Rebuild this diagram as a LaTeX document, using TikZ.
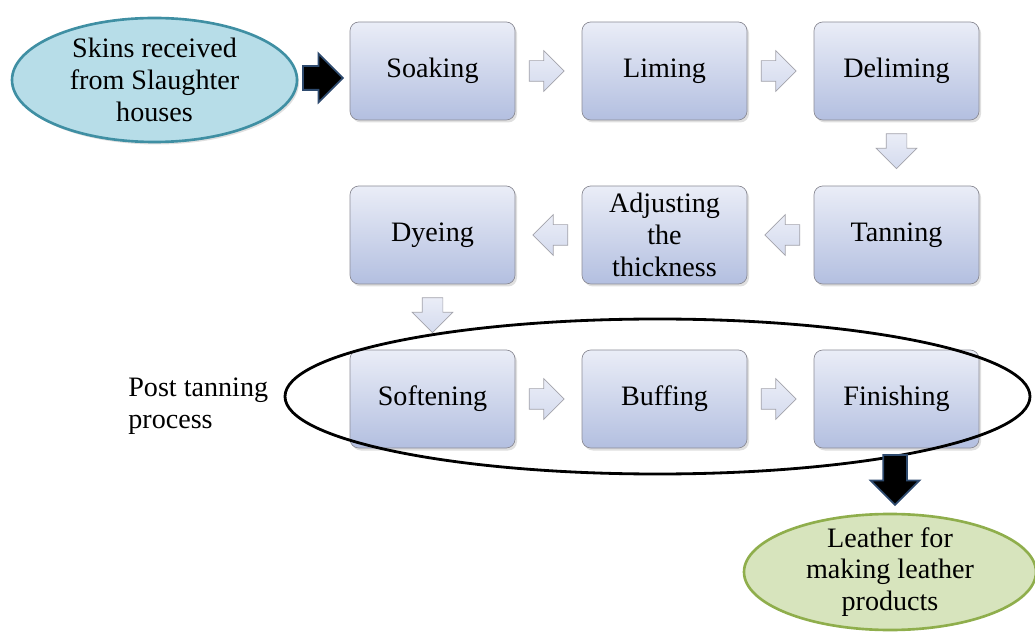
\documentclass[tikz,border=0pt]{standalone}
\usepackage{fontspec}
\setmainfont{Liberation Serif}
\usetikzlibrary{arrows.meta, positioning, shapes.geometric, shapes.arrows, calc, shadows}
\definecolor{stepline}{HTML}{8C8C96}
\definecolor{steptop}{HTML}{EAEDF7}
\definecolor{stepbot}{HTML}{B3BFE0}
\definecolor{skinfill}{HTML}{B7DDE8}
\definecolor{skinline}{HTML}{3F8FA3}
\definecolor{leafill}{HTML}{D7E4BD}
\definecolor{lealine}{HTML}{8FAE4C}
\definecolor{darkarrow}{HTML}{2E4A6E}

\begin{document}
\begin{tikzpicture}[
  every node/.style={font=\fontsize{16}{18}\selectfont},
  stepbox/.style={rectangle, rounded corners=5pt, minimum width=3.3cm, minimum height=1.96cm, align=center, draw=stepline, top color=steptop, bottom color=stepbot, drop shadow={opacity=0.25, shadow xshift=0.04cm, shadow yshift=-0.05cm}},
  endpoint/.style={ellipse, line width=1.5pt, align=center, inner xsep=0pt, inner ysep=-6pt},
  flowarrow/.style={single arrow, draw=stepline!80, top color=steptop, bottom color=steptop!60!stepbot, minimum height=0.7cm, minimum width=0.8cm, inner sep=0.2cm, single arrow head extend=0.2cm, single arrow head indent=0pt, xshift=-0.14cm},
  bigarrow/.style={single arrow, draw=darkarrow, line width=1pt, fill=black, inner sep=0.22cm, single arrow head indent=0pt},
]
\useasboundingbox (0,0) rectangle (20.7,12.64);

% process steps
\node[stepbox] (soak) at (8.65, 11.22) {Soaking};
\node[stepbox] (lime) at (13.29, 11.22) {Liming};
\node[stepbox] (delime) at (17.93, 11.22) {Deliming};
\node[stepbox] (tan) at (17.93, 7.94) {Tanning};
\node[stepbox] (adjust) at (13.29, 7.94) {Adjusting\\the\\thickness};
\node[stepbox] (dye) at (8.65, 7.94) {Dyeing};
\node[stepbox] (soften) at (8.65, 4.66) {Softening};
\node[stepbox] (buff) at (13.29, 4.66) {Buffing};
\node[stepbox] (finish) at (17.93, 4.66) {Finishing};

% start and end
\node[endpoint, draw=skinline, fill=skinfill, minimum width=5.7cm, minimum height=2.48cm, drop shadow={opacity=0.25, shadow xshift=0.04cm, shadow yshift=-0.05cm}] (skins) at (3.09, 11.04) {Skins received\\from Slaughter\\houses};
\begin{scope}
\clip (0,0) rectangle (20.7,12.64);
\node[endpoint, draw=lealine, fill=leafill, minimum width=5.84cm, minimum height=2.32cm] (leather) at (17.8, 1.2) {Leather for\\making leather\\products};
\end{scope}

% arrows between steps
\node[flowarrow] (a1) at ($(soak)!0.5!(lime)$) {};
\node[flowarrow] (a2) at ($(lime)!0.5!(delime)$) {};
\node[rotate=-90, flowarrow] (a3) at ($(delime)!0.5!(tan)$) {};
\node[rotate=180, flowarrow] (a4) at ($(tan)!0.5!(adjust)$) {};
\node[rotate=180, flowarrow] (a5) at ($(adjust)!0.5!(dye)$) {};
\node[rotate=-90, flowarrow] (a6) at ($(dye)!0.5!(soften)$) {};
\node[flowarrow] (a7) at ($(soften)!0.5!(buff)$) {};
\node[flowarrow] (a8) at ($(buff)!0.5!(finish)$) {};

\node[bigarrow, minimum height=0.8cm, minimum width=0.8cm] (in) at (6.34, 11.08) {};

% post tanning group
\node[ellipse, draw=black, line width=1.6pt, minimum width=14.9cm, minimum height=3.1cm] (post) at (13.15, 4.71) {};
\node[anchor=west, align=left, inner sep=0pt] (postlbl) at (2.56, 4.52) {Post tanning\\process};

\node[bigarrow, rotate=-90, minimum height=1.0cm, minimum width=0.9cm] (out) at (17.9, 3.16) {};

\end{tikzpicture}
\end{document}
